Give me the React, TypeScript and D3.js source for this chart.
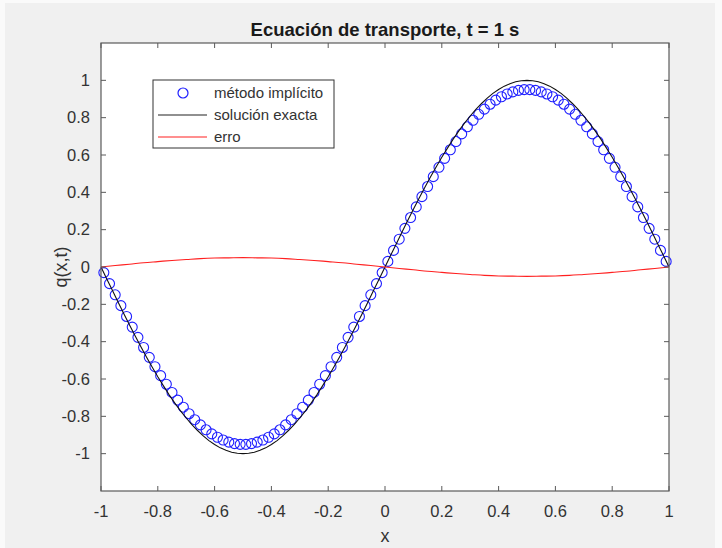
import React from 'react';
import * as d3 from 'd3';

// solución exacta, x = -1 : 0.02 : 1
const exactValues = [
  0, -0.063, -0.125, -0.187, -0.249, -0.309, -0.368, -0.426, -0.482, -0.536,
  -0.588, -0.637, -0.685, -0.729, -0.771, -0.809, -0.844, -0.876, -0.905, -0.93,
  -0.951, -0.969, -0.982, -0.992, -0.998, -1.0, -0.998, -0.992, -0.982, -0.969,
  -0.951, -0.93, -0.905, -0.876, -0.844, -0.809, -0.771, -0.729, -0.685, -0.637,
  -0.588, -0.536, -0.482, -0.426, -0.368, -0.309, -0.249, -0.187, -0.125, -0.063,
  0, 0.063, 0.125, 0.187, 0.249, 0.309, 0.368, 0.426, 0.482, 0.536,
  0.588, 0.637, 0.685, 0.729, 0.771, 0.809, 0.844, 0.876, 0.905, 0.93,
  0.951, 0.969, 0.982, 0.992, 0.998, 1.0, 0.998, 0.992, 0.982, 0.969,
  0.951, 0.93, 0.905, 0.876, 0.844, 0.809, 0.771, 0.729, 0.685, 0.637,
  0.588, 0.536, 0.482, 0.426, 0.368, 0.309, 0.249, 0.187, 0.125, 0.063, 0
];
const exactStart = -1;
const exactStep = 0.02;

// método implícito, x = -0.99 : 0.02 : 0.99
const implicitValues = [
  -0.03, -0.089, -0.149, -0.207, -0.265, -0.322, -0.377, -0.431, -0.484, -0.534,
  -0.582, -0.628, -0.672, -0.713, -0.751, -0.786, -0.818, -0.846, -0.872, -0.894,
  -0.912, -0.927, -0.938, -0.946, -0.95, -0.95, -0.946, -0.938, -0.927, -0.912,
  -0.894, -0.872, -0.846, -0.818, -0.786, -0.751, -0.713, -0.672, -0.628, -0.582,
  -0.534, -0.484, -0.431, -0.377, -0.322, -0.265, -0.207, -0.149, -0.089, -0.03,
  0.03, 0.089, 0.149, 0.207, 0.265, 0.322, 0.377, 0.431, 0.484, 0.534,
  0.582, 0.628, 0.672, 0.713, 0.751, 0.786, 0.818, 0.846, 0.872, 0.894,
  0.912, 0.927, 0.938, 0.946, 0.95, 0.95, 0.946, 0.938, 0.927, 0.912,
  0.894, 0.872, 0.846, 0.818, 0.786, 0.751, 0.713, 0.672, 0.628, 0.582,
  0.534, 0.484, 0.431, 0.377, 0.322, 0.265, 0.207, 0.149, 0.089, 0.03
];
const implicitStart = -0.99;
const implicitStep = 0.02;

// erro, x = -1 : 0.05 : 1
const errorValues = [
  0, 0.008, 0.015, 0.023, 0.029, 0.035, 0.04, 0.045, 0.048, 0.049,
  0.05, 0.049, 0.048, 0.045, 0.04, 0.035, 0.029, 0.023, 0.015, 0.008,
  0, -0.008, -0.015, -0.023, -0.029, -0.035, -0.04, -0.045, -0.048, -0.049,
  -0.05, -0.049, -0.048, -0.045, -0.04, -0.035, -0.029, -0.023, -0.015, -0.008, 0
];
const errorStart = -1;
const errorStep = 0.05;

const xTicks = [-1, -0.8, -0.6, -0.4, -0.2, 0, 0.2, 0.4, 0.6, 0.8, 1];
const yTicks = [-1, -0.8, -0.6, -0.4, -0.2, 0, 0.2, 0.4, 0.6, 0.8, 1];
const legendLabels = ['método implícito', 'solución exacta', 'erro'];
const title = 'Ecuación de transporte, t = 1 s';

const toPoints = (vals: number[], start: number, step: number) =>
  vals.map((v, i) => ({ x: start + i * step, y: v }));

const App = () => {
  const W = 722, H = 548;
  const margin = { top: 43, right: 53, bottom: 57, left: 101 };
  const width = W - margin.left - margin.right;
  const height = H - margin.top - margin.bottom;

  const x = d3.scaleLinear().domain([-1, 1]).range([0, width]);
  const y = d3.scaleLinear().domain([-1.2, 1.2]).range([height, 0]);

  const line = d3.line<{ x: number; y: number }>()
    .x((d) => x(d.x))
    .y((d) => y(d.y));
  const smooth = d3.line<{ x: number; y: number }>()
    .x((d) => x(d.x))
    .y((d) => y(d.y))
    .curve(d3.curveMonotoneX);

  const exact = toPoints(exactValues, exactStart, exactStep);
  const implicit = toPoints(implicitValues, implicitStart, implicitStep);
  const error = toPoints(errorValues, errorStart, errorStep);

  const axisColor = '#5a5a5a';
  const textColor = '#333';
  const font = '"Liberation Sans", Arial, sans-serif';
  const tick = 5;

  const fmt = (v: number) => String(Math.round(v * 10) / 10);

  const lg = { x: 52, y: 37, w: 181, h: 68, row: 22 };

  return (
    <svg width={W} height={H} style={{ position: 'absolute', left: 0, top: 0 }} fontFamily={font}>
      <rect x={0} y={0} width={W} height={H} fill="#fafafa" />
      <rect x={5} y={3} width={710} height={H - 3} fill="#f0f0f0" />
      <text x={margin.left + width / 2} y={36} textAnchor="middle" fontSize={18.5}
        fontWeight="bold" fill="#1a1a1a">{title}</text>
      <g transform={`translate(${margin.left},${margin.top})`}>
        <rect x={0} y={0} width={width} height={height} fill="#fff" />
        <defs>
          <clipPath id="plot-clip">
            <rect x={-6} y={-6} width={width + 12} height={height + 12} />
          </clipPath>
        </defs>
        <g clipPath="url(#plot-clip)">
          {implicit.map((d, i) => (
            <circle key={`imp-${i}`} cx={x(d.x)} cy={y(d.y)} r={5}
              fill="none" stroke="#1f1fff" strokeWidth={1.1} />
          ))}
          <path d={line(exact) ?? ''} fill="none" stroke="#111" strokeWidth={1.1} />
          <path d={smooth(error) ?? ''} fill="none" stroke="#ff2020" strokeWidth={1.1} />
        </g>
        {/* ticks on all four sides */}
        {xTicks.map((t) => (
          <g key={`xt-${t}`}>
            <line x1={x(t)} x2={x(t)} y1={height} y2={height - tick} stroke={axisColor} />
            <line x1={x(t)} x2={x(t)} y1={0} y2={tick} stroke={axisColor} />
            <text x={x(t)} y={height + 26} textAnchor="middle" fontSize={16.5}
              fill={textColor}>{fmt(t)}</text>
          </g>
        ))}
        {yTicks.map((t) => (
          <g key={`yt-${t}`}>
            <line x1={0} x2={tick} y1={y(t)} y2={y(t)} stroke={axisColor} />
            <line x1={width} x2={width - tick} y1={y(t)} y2={y(t)} stroke={axisColor} />
            <text x={-11} y={y(t)} dy="0.35em" textAnchor="end" fontSize={16.5}
              fill={textColor}>{fmt(t)}</text>
          </g>
        ))}
        <rect x={0} y={0} width={width} height={height} fill="none" stroke={axisColor}
          strokeWidth={1.2} />
        <text x={width / 2} y={height + 51} textAnchor="middle" fontSize={18}
          fill={textColor}>x</text>
        <text transform={`translate(${-34},${height / 2}) rotate(-90)`} textAnchor="middle"
          fontSize={18} fill={textColor}>q(x,t)</text>

        {/* legend */}
        <g transform={`translate(${lg.x},${lg.y})`}>
          <rect x={0} y={0} width={lg.w} height={lg.h} fill="#fff" stroke="#333" strokeWidth={1} />
          {legendLabels.map((label, i) => {
            const cy = 13 + i * lg.row;
            return (
              <g key={label}>
                {i === 0 && (
                  <circle cx={30} cy={cy} r={5} fill="none" stroke="#1f1fff" strokeWidth={1.2} />
                )}
                {i > 0 && (
                  <line x1={5} x2={54} y1={cy} y2={cy}
                    stroke={i === 1 ? '#222' : '#ff2020'} strokeWidth={1.1} />
                )}
                <text x={61} y={cy} dy="0.35em" fontSize={15} fill={textColor}>{label}</text>
              </g>
            );
          })}
        </g>
      </g>
    </svg>
  );
};

export default App;
